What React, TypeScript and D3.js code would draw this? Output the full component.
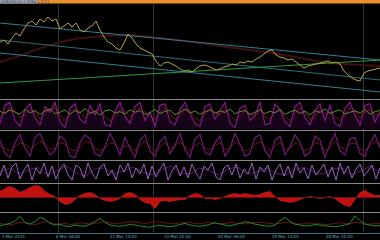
import React from "react";
import * as d3 from "d3";

const W = 380;
const H = 240;

// main price series (x = index, evenly spaced)
const price = [57,59,55,61,66,63,70,76,78,74,80,77,82,78,80,70,73,76,72,76,69,67,71,73,78,69,62,57,55,51,49,56,65,61,55,51,49,47,45,38,33,36,37,35,33,30,28,29,27,30,33,34,33,31,29,30,32,33,35,34,37,36,38,37,40,42,45,48,49,44,42,41,39,40,37,34,31,33,34,35,36,37,38,36,37,35,28,24,21,19,18,26,28,29,30,31];
const maLine = [37,43,51,57,61,63,64,63.5,61,59,56,53,50,48,45,41,37,35,34,33];
// trend lines: [startValue, endValue] across full width
const tealA = [76, 39];
const tealC = [59, 19];
const tealB = [46, 7];
const greenT = [16, 39];

const osc1Magenta = [20,85,95,30,10,70,90,40,15,80,60,95,25,5,75,90,35,20,85,50,90,15,10,65,95,45,20,80,95,30,60,10,85,90,25,15,70,95,55,20,10,80,90,35,65,95,20,5,75,85,30,50,95,15,20,90,70,25,10,80,95,40,15,65,90,30,85,20,10,75,95,50,15,85,90,25,60];
const osc1Red = [40,60,75,65,40,50,70,60,35,55,70,75,50,30,50,70,60,40,55,65,70,45,30,45,70,65,45,55,75,60,45,35,60,75,55,35,45,70,65,40,30,55,70,60,50,70,50,30,45,65,55,45,70,45,35,60,65,45,30,55,75,60,35,45,70,55,60,45,30,50,75,65,40,60,70,50,50];
const osc1Green = [63,56,68,60,53,70,58,66,52,64,71,55,60,68,53,66,58,73,56,63,50,65,69,57,62,54,68,60,66,52,58,70,55,63,67,51,60,72,57,64,53,61,68,56,65,59,71,54,62,66,52,60,69,55,63,58,70,53,61,67,56,64,50,66,59,72,55,63,68,54,60,65,57,69,53,62,66];

const osc2Magenta = [70,20,5,60,90,40,10,80,95,50,15,30,85,70,10,5,60,90,75,20,10,45,95,60,15,80,40,5,70,90,30,10,65,85,20,50,95,35,5,75,90,25,15,60,85,10,40,95,55,10,20,80,90,30,5,70,85,15,45,90,60,10,25,85,70,5,55,95,30,15,75,80,20,10,60,90,40];
const osc2Red = [50,40,30,45,60,55,40,50,65,55,35,40,60,55,35,30,45,65,60,40,30,40,60,55,35,50,45,30,50,65,45,30,45,60,40,45,65,45,30,50,60,40,35,50,60,35,40,65,50,30,35,55,65,45,30,50,60,35,40,60,50,30,40,60,55,30,45,65,45,35,55,60,40,30,50,65,50];

const osc3Violet = [30,85,20,75,95,15,60,90,10,70,40,95,25,80,15,65,90,35,10,85,70,20,95,45,15,75,90,30,60,10,85,50,95,20,70,40,90,15,80,25,65,95,10,55,85,30,75,20,90,45,15,80,60,95,25,10,70,85,35,90,20,65,40,95,15,75,50,85,10,60,90,30,80,20,95,45,70,15,85,35,60,90,25,75,10,95,40,80,20,65,90,30,55,85,15,70];
const osc3Magenta = [50,70,40,60,75,35,55,80,45,30,65,70,40,55,75,50,35,60,80,45,40,70,55,35,65,75,40,50,70,45,35,60,75,50,40,65,70,35,55,80,45];

const histRed = [6,9,11,9,5,7,10,12,11,6,3,1,-4,-7,-6,-2,2,4,5,3,-1,-3,-4,-3,-1,4,5,3,-2,-5,-6,-11,-4,-3,-4,-3,-2,-2,2,4,3,-1,-1,-2,-1,1,3,4,3,4,3,2,3,5,6,1,-3,-4,-5,-4,-2,0,1,0,-1,0,1,-1,-5,-8,-9,-2,5,7,4,2,2];

const green5 = [30,38,45,60,85,50,40,55,80,70,45,35,40,30,25,35,30,28,40,55,75,50,35,30,28,32,40,35,30,25,22,30,35,28,25,30,38,45,35,30,28,32,40,48,42,35,30,38,45,55,50,40,35,30,28,35,60,80,55,40,35,30,32,38,35,30,28,25,30,35,45,90,60,40,35,30,32];
const red5 = [45,40,35,42,50,48,42,38,45,55,50,42,40,45,38,42,48,45,40,44,50,55,48,42,45,50,55,52,48,45,50,55,52,48,45,42,48,52,50,45,42,48,50,46,42,45,50,48,44,42,46,50,52,48,44,40,45,50,48,42,40,45,48,44,42,38,40,44,48,45,40,50,48,42,40,44,46];

const separators = [99.5, 130.5, 160.5, 183.5, 212.5];
const vLines = [58.5, 153.5, 363.5];
const timeLabels = ["3 Mar 2014", "6 Mar 06:00", "11 Mar 14:00", "14 Mar 22:00", "20 Mar 06:00", "25 Mar 14:00", "28 Mar 22:00"];

function xs(n: number) {
  return d3.scaleLinear().domain([0, n - 1]).range([0, W]);
}

function linePath(data: number[], y: d3.ScaleLinear<number, number>, curve = d3.curveLinear) {
  const x = xs(data.length);
  return d3.line<number>().x((_, i) => x(i)).y((d) => y(d)).curve(curve)(data) || "";
}

function areaPath(data: number[], y: d3.ScaleLinear<number, number>, base: number) {
  const x = xs(data.length);
  return d3.area<number>().x((_, i) => x(i)).y0(y(base)).y1((d) => y(d))(data) || "";
}

export default function App() {
  const yMain = d3.scaleLinear().domain([0, 95]).range([99, 4]);
  const y1 = d3.scaleLinear().domain([0, 100]).range([129, 101]);
  const y2 = d3.scaleLinear().domain([0, 100]).range([159, 132]);
  const y3 = d3.scaleLinear().domain([0, 100]).range([182, 162]);
  const y4 = d3.scaleLinear().domain([-13.5, 13.5]).range([211, 184]);
  const y5 = d3.scaleLinear().domain([0, 100]).range([231, 214]);
  const xT = d3.scaleLinear().domain([0, 1]).range([0, W]);
  const xLab = d3.scaleLinear().domain([0, timeLabels.length]).range([2, W]);

  const trend = (t: number[], color: string, w = 1) => (
    <line x1={xT(0)} y1={yMain(t[0])} x2={xT(1)} y2={yMain(t[1])} stroke={color} strokeWidth={w} />
  );

  return (
    <svg width={W} height={H} style={{ position: "fixed", left: 0, top: 0, background: "#000" }}>
      <rect x={0} y={0} width={W} height={H} fill="#000" />
      {/* top bar */}
      <rect x={0} y={0} width={W} height={3.5} fill="#ee8f2e" />
      <rect x={0} y={0} width={37} height={3.5} fill="#9aa4b0" />
      <text x={1} y={3.2} fontSize={3.6} fill="#2a3a70" fontFamily="DejaVu Sans">EURUSD,H1 1.3764 1.3771</text>
      {/* vertical grid lines */}
      {vLines.map((v) => (
        <line key={v} x1={v} x2={v} y1={4} y2={232} stroke="#333" strokeWidth={1} />
      ))}
      {/* main panel */}
      <path d={linePath(maLine, yMain, d3.curveBasis)} fill="none" stroke="#3e1010" strokeWidth={2} />
      {trend(tealA, "#2f7f98")}
      {trend(tealC, "#2a6f78")}
      {trend(tealB, "#2f7f98")}
      {trend(greenT, "#2c9a3c")}
      <path d={linePath(price, yMain)} fill="none" stroke="#b8a443" strokeWidth={1} />
      {/* panel 1 */}
      <path d={areaPath(osc1Magenta, y1, 0)} fill="#16031a" stroke="none" />
      <path d={linePath(osc1Red, y1)} fill="none" stroke="#7a1414" strokeWidth={1} />
      <path d={linePath(osc1Magenta, y1)} fill="none" stroke="#901890" strokeWidth={1.1} />
      <path d={linePath(osc1Green, y1)} fill="none" stroke="#5a8a2a" strokeWidth={1} />
      {/* panel 2 */}
      <path d={linePath(osc2Red, y2)} fill="none" stroke="#6a1414" strokeWidth={1} />
      <path d={linePath(osc2Magenta, y2)} fill="none" stroke="#7a1a80" strokeWidth={1.1} />
      {/* panel 3 */}
      <path d={linePath(osc3Magenta, y3)} fill="none" stroke="#5a1a6a" strokeWidth={1} />
      <path d={linePath(osc3Violet, y3)} fill="none" stroke="#9a60b8" strokeWidth={1} />
      {/* panel 4 */}
      <path d={areaPath(histRed, y4, 0)} fill="#c01010" stroke="#e02020" strokeWidth={0.6} />
      <line x1={0} x2={W} y1={y4(0)} y2={y4(0)} stroke="#5a1010" strokeWidth={0.8} />
      {/* panel 5 */}
      <path d={linePath(red5, y5)} fill="none" stroke="#6a1616" strokeWidth={1} />
      <path d={linePath(green5, y5)} fill="none" stroke="#248a24" strokeWidth={1} />
      {/* separators */}
      {separators.map((s) => (
        <line key={s} x1={0} x2={W} y1={s} y2={s} stroke="#8a8a8a" strokeWidth={1} />
      ))}
      {/* time axis */}
      <line x1={0} x2={W} y1={233.5} y2={233.5} stroke="#3a7080" strokeWidth={1} />
      {timeLabels.map((t, i) => (
        <text key={t} x={xLab(i)} y={238} fontSize={4} fill="#5fb0c0" fontFamily="DejaVu Sans">{t}</text>
      ))}
    </svg>
  );
}
